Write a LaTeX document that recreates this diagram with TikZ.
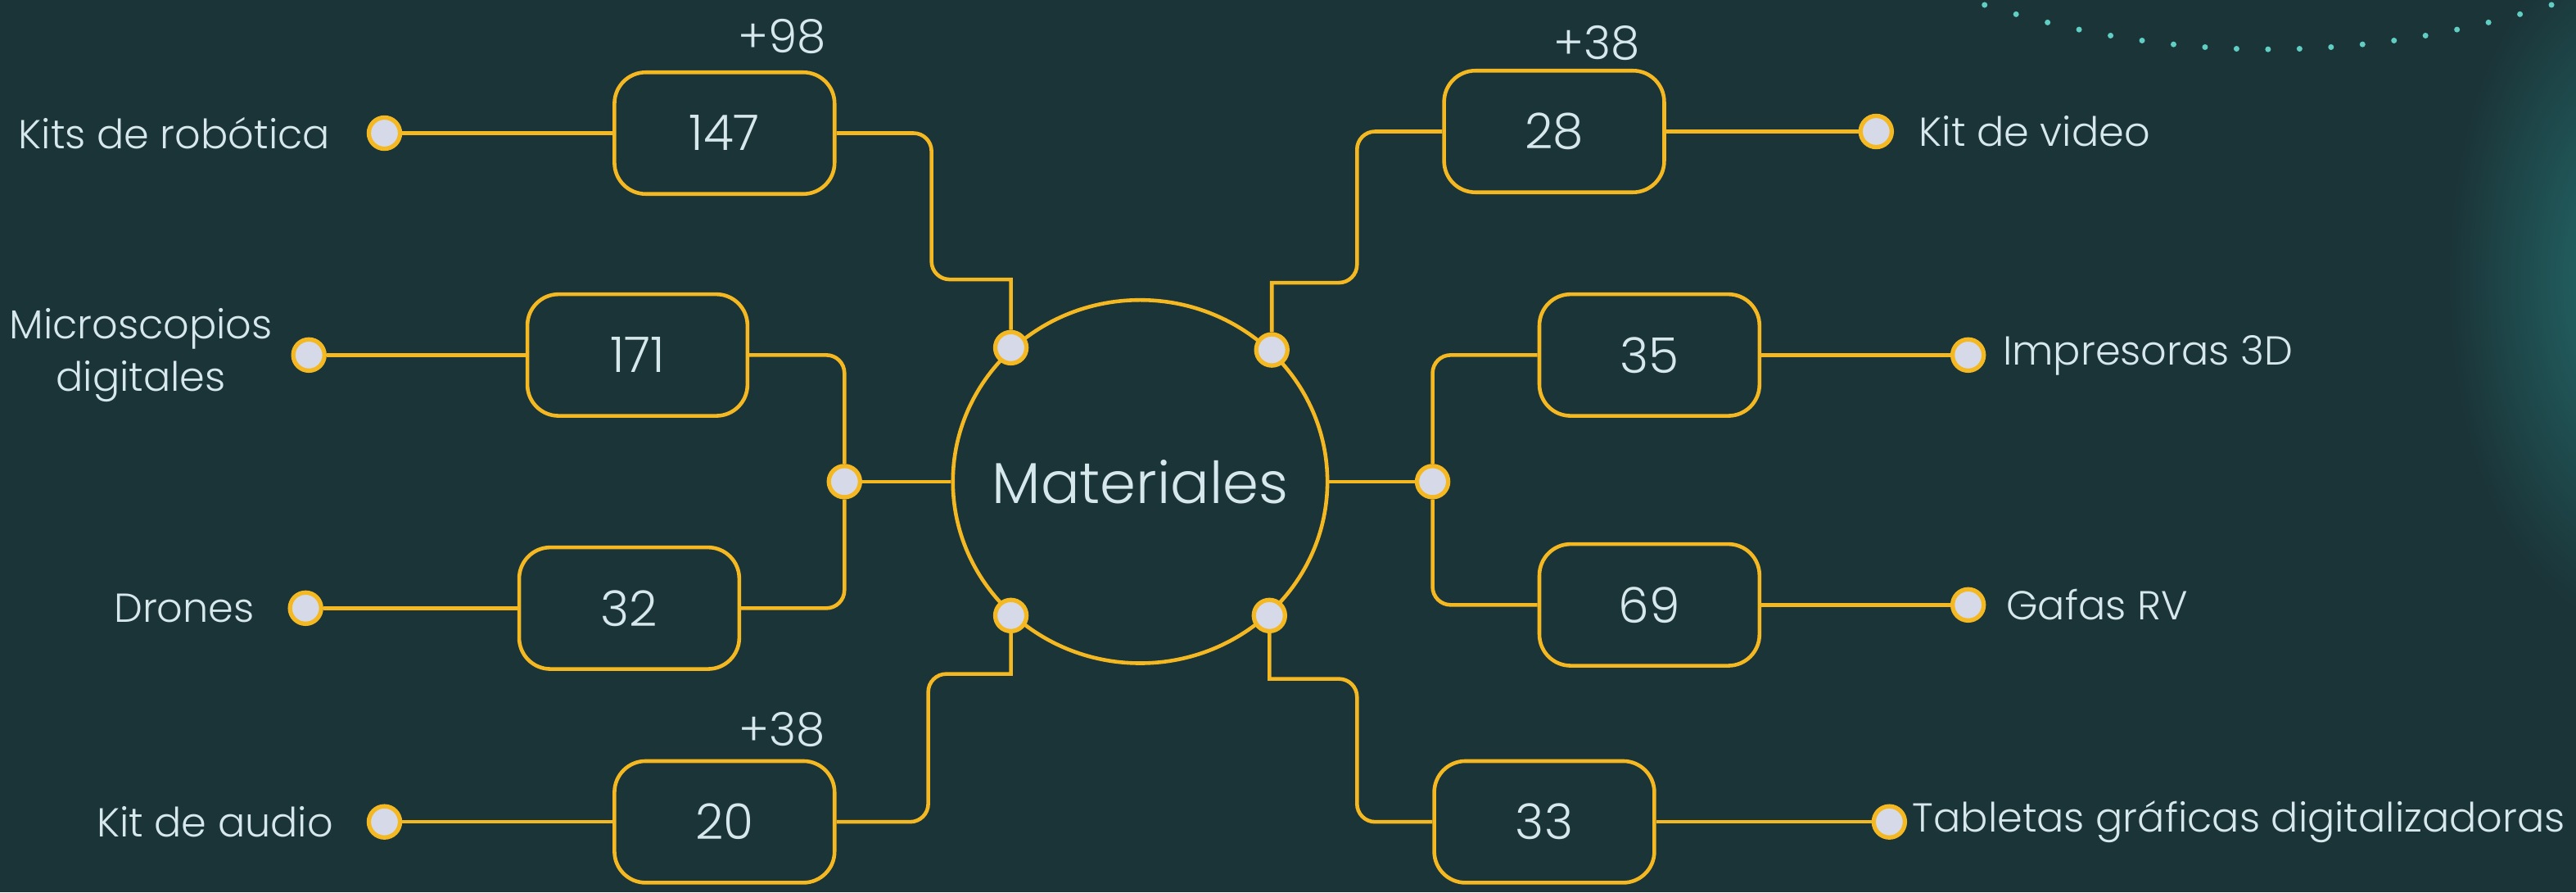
\documentclass[tikz,border=0pt]{standalone}
\usepackage{fontspec}
\setmainfont{Poppins Light}
\usetikzlibrary{positioning,shapes.geometric}

\definecolor{bgc}{RGB}{27,52,56}
\definecolor{gold}{RGB}{244,184,34}
\definecolor{dotc}{RGB}{214,218,232}
\definecolor{txtc}{RGB}{214,232,236}
\definecolor{tealc}{RGB}{96,206,194}
\definecolor{glowc}{RGB}{36,108,108}

\tikzset{
  wire/.style={draw=gold, line width=1.3pt},
  numbox/.style={draw=gold, line width=1.3pt, rounded corners=0.38cm, minimum width=2.68cm, minimum height=1.48cm, text=txtc, font=\fontsize{17}{20}\selectfont},
  dot/.style={circle, draw=gold, fill=dotc, line width=1.5pt, minimum size=0.38cm, inner sep=0pt},
  lab/.style={text=txtc, inner sep=0pt, font=\fontsize{14}{18}\selectfont},
  plus/.style={text=txtc, inner sep=0pt, font=\fontsize{16}{19}\selectfont},
}

\begin{document}
\begin{tikzpicture}[x=0.02cm, y=-0.02cm]
\useasboundingbox (0,0) rectangle (1568,543);
\fill[bgc] (0,0) rectangle (1568,543);

% glow and dotted arc, top right
\begin{scope}
\clip (0,0) rectangle (1568,543);
\shade[inner color=glowc, outer color=bgc] (1600,170) ellipse (110 and 210);
\foreach \i in {0,...,18}
  \fill[tealc] ({1208+\i*19.17}, {30-27*((\i*19.17-172.5)/172.5)^2}) circle[radius=0.035cm];
\end{scope}

% centre
\node[ellipse, draw=gold, line width=1.3pt, inner sep=0pt, minimum width=4.56cm, minimum height=4.42cm, text=txtc, font=\fontsize{20}{24}\selectfont] (c) at (694,293) {\makebox[0pt]{Materiales}};
\node[dot] (dul) at (c.134) {};
\node[dot] (dur) at (c.45) {};
\node[dot] (ddl) at (c.226) {};
\node[dot] (ddr) at (c.314) {};
\node[dot] (dl) at (514,293) {};
\node[dot] (dr) at (872,293) {};

% boxes
\node[numbox] (b147) at (441,81) {147};
\node[numbox] (b171) at (388,216) {171};
\node[numbox] (b32) at (383,370) {32};
\node[numbox] (b20) at (441,500) {20};
\node[numbox] (b28) at (946,80) {28};
\node[numbox] (b35) at (1004,216) {35};
\node[numbox] (b69) at (1004,368) {69};
\node[numbox] (b33) at (940,500) {33};

\node[plus] (p98) at (476,22) {+98};
\node[plus] (p38a) at (476,444) {+38};
\node[plus] (p38b) at (972,26) {+38};

% outer dots and labels
\node[dot] (d1) at (234,81) {};
\node[dot] (d2) at (188,216) {};
\node[dot] (d3) at (186,370) {};
\node[dot] (d4) at (234,500) {};
\node[dot] (e1) at (1142,80) {};
\node[dot] (e2) at (1198,216) {};
\node[dot] (e3) at (1198,368) {};
\node[dot] (e4) at (1150,500) {};

\node[lab, left=0.44cm of d1] (l1) {Kits de robótica};
\node[lab, left=0.22cm of d2, align=center] (l2) {Microscopios\\digitales};
\node[lab, left=0.4cm of d3] (l3) {Drones};
\node[lab, left=0.4cm of d4] (l4) {Kit de audio};
\node[lab, right=0.3cm of e1] (r1) {Kit de video};
\node[lab, right=0.2cm of e2] (r2) {Impresoras 3D};
\node[lab, right=0.24cm of e3] (r3) {Gafas RV};
\node[lab, right=0.06cm of e4] (r4) {Tabletas gráficas digitalizadoras};

% steps
\coordinate (k1) at (567,170);
\coordinate (k2) at (565,410);
\coordinate (k3) at (826,172);
\coordinate (k4) at (826,413);

% connectors
\draw[wire] (d1) -- (b147);
\draw[wire] (d2) -- (b171);
\draw[wire] (d3) -- (b32);
\draw[wire] (d4) -- (b20);
\draw[wire] (b28) -- (e1);
\draw[wire] (b35) -- (e2);
\draw[wire] (b69) -- (e3);
\draw[wire] (b33) -- (e4);

\draw[wire] (b147.east) [rounded corners=0.22cm] -| (k1) [sharp corners] -| (dul);
\draw[wire] (b20.east) [rounded corners=0.22cm] -| (k2) [sharp corners] -| (ddl);
\draw[wire] (b28.west) [rounded corners=0.22cm] -| (k3) [sharp corners] -| (dur);
\draw[wire] (b33.west) [rounded corners=0.22cm] -| (k4) [sharp corners] -| (ddr);

\draw[wire, rounded corners=0.22cm] (b171.east) -| (dl);
\draw[wire, rounded corners=0.22cm] (b32.east) -| (dl);
\draw[wire, rounded corners=0.22cm] (b35.west) -| (dr);
\draw[wire, rounded corners=0.22cm] (b69.west) -| (dr);
\draw[wire] (dl) -- (c);
\draw[wire] (c) -- (dr);

\end{tikzpicture}
\end{document}
